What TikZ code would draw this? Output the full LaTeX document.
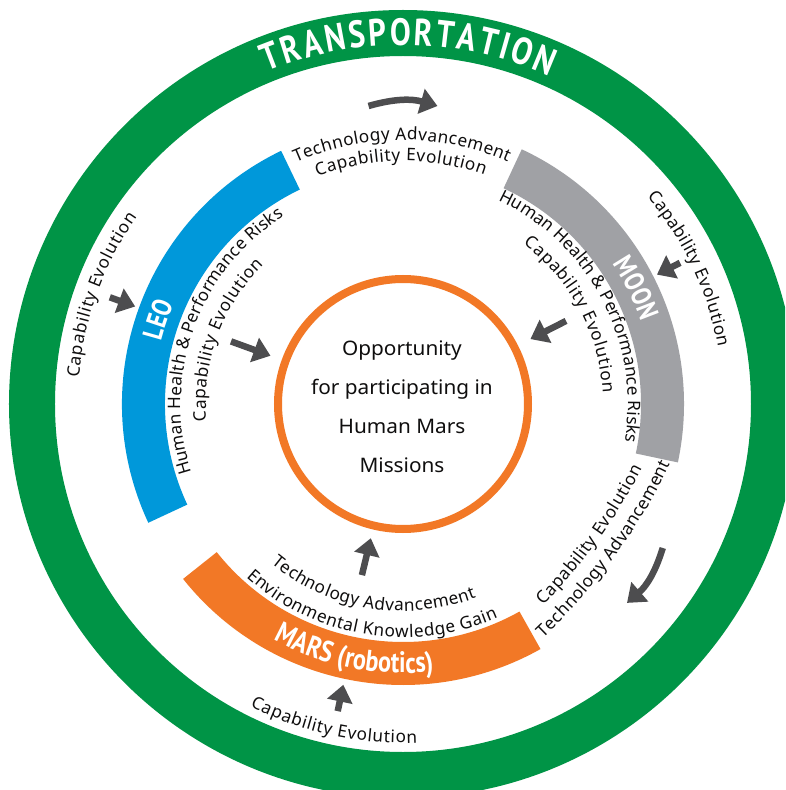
\documentclass[tikz,border=0pt]{standalone}
\usepackage{fontspec}
\setmainfont{Noto Sans}
\newfontfamily\bodyfont{Noto Sans}
\newfontfamily\hubfont[FakeStretch=1.04]{Noto Sans}
\newfontfamily\lblfont[FakeStretch=0.82]{PT Sans}
\usetikzlibrary{decorations.text,arrows.meta}
\definecolor{tgreen}{RGB}{0,148,70}
\definecolor{tblue}{RGB}{0,152,218}
\definecolor{tgray}{RGB}{160,161,165}
\definecolor{torange}{RGB}{242,120,38}
\definecolor{tarrow}{RGB}{77,77,79}
\definecolor{ttext}{RGB}{15,14,14}
\newcommand\bodyfmt{\bodyfont\fontsize{17.2}{17.2}\selectfont\color{ttext}}
\newcommand\lblfmt{\lblfont\bfseries\fontsize{28}{28}\selectfont\color{white}}
\newcommand\marsfmt{\lblfont\bfseries\fontsize{29.5}{29.5}\selectfont\color{white}}
\newcommand\transfmt{\lblfont\bfseries\fontsize{38}{38}\selectfont\color{white}}
\tikzset{
  flow/.style={line width=6.5pt, draw=tarrow, -{Triangle[width=25pt,length=17pt]}},
}
\begin{document}
\begin{tikzpicture}[x=1pt,y=1pt]
\useasboundingbox (-403,-386) rectangle (382,404);
\clip (-403,-386) rectangle (382,404);
\fill[white] (-403,-386) rectangle (382,404);
% outer transportation ring
\draw[tgreen, line width=46pt] (0,0) circle[radius=371];
\path[decorate, decoration={text along path, text align=fit to path, text={|\transfmt|TRANSPORTATION}}]
  (112.3:359) arc[start angle=112.3, end angle=65.9, radius=359];
% destination bands
\fill[tblue] (115.7:281) arc[start angle=115.7,end angle=205,radius=281] -- (205:238) arc[start angle=205,end angle=115.7,radius=238] -- cycle;
\fill[tgray] (65:281) arc[start angle=65,end angle=-12,radius=281] -- (-12:238) arc[start angle=-12,end angle=65,radius=238] -- cycle;
\fill[torange] (218.5:281) arc[start angle=218.5,end angle=299.3,radius=281] -- (299.3:238) arc[start angle=299.3,end angle=218.5,radius=238] -- cycle;
% band labels
\path[decorate, decoration={text along path, text align=center, text={|\lblfmt|LEO}}]
  (200:250) arc[start angle=200, end angle=122, radius=250];
\path[decorate, decoration={text along path, text align=center, text={|\lblfmt|MOON}}]
  (70:252) arc[start angle=70, end angle=-17, radius=252];
\path[decorate, decoration={text along path, text align=center, text={|\marsfmt|MARS (robotics)}}]
  (218.9:269) arc[start angle=218.9, end angle=298.9, radius=269];
% hub
\node[circle, draw=torange, line width=8pt, minimum size=250pt, inner sep=0pt] (hub) at (0,0) {};
\node[font=\hubfont\fontsize{20}{39}\selectfont, align=center, text=ttext, inner sep=0pt] (hubtext) at (-1,-3)
  {Opportunity\\for participating in\\Human Mars\\Missions};
% top texts
\path[decorate, decoration={text along path, text align=fit to path, text={|\bodyfmt|Technology Advancement}}]
  (113.9:264) arc[start angle=113.9, end angle=66.6, radius=264];
\path[decorate, decoration={text along path, text align=fit to path, text={|\bodyfmt|Capability Evolution}}]
  (110.6:243) arc[start angle=110.6, end angle=70.4, radius=243];
% left texts
\path[decorate, decoration={text along path, text align=fit to path, text={|\bodyfmt|Capability Evolution}}]
  (175.4:325) arc[start angle=175.4, end angle=144.9, radius=325];
\path[decorate, decoration={text along path, text align=fit to path, text={|\bodyfmt|Human Health {\&} Performance Risks}}]
  (198.1:222) arc[start angle=198.1, end angle=122.4, radius=222];
\path[decorate, decoration={text along path, text align=fit to path, text={|\bodyfmt|Capability Evolution}}]
  (185.1:197) arc[start angle=185.1, end angle=135.0, radius=197];
% right texts
\path[decorate, decoration={text along path, text align=fit to path, text={|\bodyfmt|Capability Evolution}}]
  (40.4:320.5) arc[start angle=40.4, end angle=10.2, radius=320.5];
\path[decorate, decoration={text along path, text align=fit to path, text={|\bodyfmt|Human Health {\&} Performance Risks}}]
  (64.9:225) arc[start angle=64.9, end angle=-9.6, radius=225];
\path[decorate, decoration={text along path, text align=fit to path, text={|\bodyfmt|Capability Evolution}}]
  (53.0:200.5) arc[start angle=53.0, end angle=3.1, radius=200.5];
% bottom texts
\path[decorate, decoration={text along path, text align=fit to path, text={|\bodyfmt|Technology Advancement}}]
  (230.4:207) arc[start angle=230.4, end angle=290.7, radius=207];
\path[decorate, decoration={text along path, text align=fit to path, text={|\bodyfmt|Environmental Knowledge Gain}}]
  (227.9:233.5) arc[start angle=227.9, end angle=294.0, radius=233.5];
\path[decorate, decoration={text along path, text align=fit to path, text={|\bodyfmt|Capability Evolution}}]
  (243.2:339) arc[start angle=243.2, end angle=272.4, radius=339];
% lower right texts
\path[shift={(-278,204)}, decorate, decoration={text along path, text align=fit to path, text={|\bodyfmt|Capability Evolution}}]
  (-44.1:583) arc[start angle=-44.1, end angle=-27.4, radius=583];
\path[shift={(-278,204)}, decorate, decoration={text along path, text align=fit to path, text={|\bodyfmt|Technology Advancement}}]
  (-46.3:606) arc[start angle=-46.3, end angle=-25.8, radius=606];
% arrow end points
\coordinate (leoOutS) at (160:312); \coordinate (leoOutE) at (160:285);
\coordinate (leoInS) at (160:183);  \coordinate (leoInE) at (160:141);
\coordinate (moonOutS) at (27:311); \coordinate (moonOutE) at (27:285);
\coordinate (moonInS) at (27:183);  \coordinate (moonInE) at (27:143);
\coordinate (marsInS) at (256.5:176); \coordinate (marsInE) at (256.5:138);
\coordinate (marsOutS) at (258:314); \coordinate (marsOutE) at (258:287);
\coordinate (topS) at (96.6:300); \coordinate (topE) at (83.4:300);
\coordinate (lrS) at (-29:297); \coordinate (lrE) at (-41.6:299.6);
% arrows
\draw[flow] (leoOutS) -- (leoOutE);
\draw[flow] (leoInS) -- (leoInE);
\draw[flow] (moonOutS) -- (moonOutE);
\draw[flow] (moonInS) -- (moonInE);
\draw[flow] (marsInS) -- (marsInE);
\draw[flow] (marsOutS) -- (marsOutE);
\draw[flow] (topS) to[bend left=16] (topE);
\draw[flow] (lrS) to[bend left=16] (lrE);
\end{tikzpicture}
\end{document}
